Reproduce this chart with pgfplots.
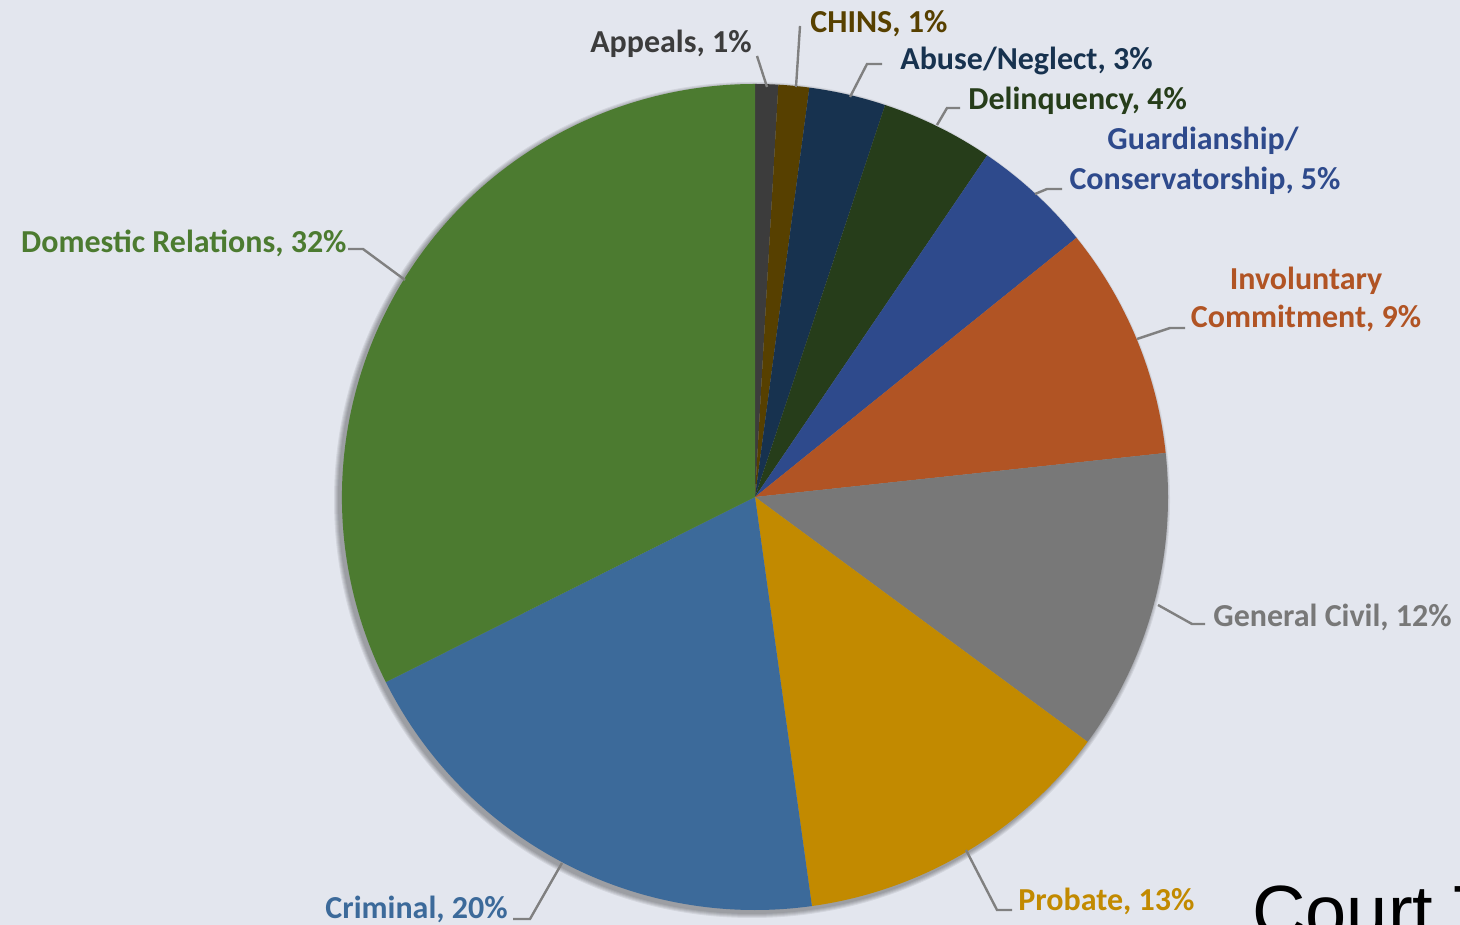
\documentclass[border=0pt]{standalone}
\usepackage{pgfplots}
\pgfplotsset{compat=1.18}
\usepackage{pgfplotstable}
\usepackage{fontspec}
\setmainfont{Carlito}
\newfontfamily\courtfont{Liberation Sans}

\definecolor{bg}{HTML}{E3E6EE}
\definecolor{lead}{HTML}{808080}
% slice colours, in drawing order (clockwise from 12 o'clock)
\definecolor{c0}{HTML}{3C3C3C}
\definecolor{c1}{HTML}{574000}
\definecolor{c2}{HTML}{17324F}
\definecolor{c3}{HTML}{263D1A}
\definecolor{c4}{HTML}{2E4A8C}
\definecolor{c5}{HTML}{B15424}
\definecolor{c6}{HTML}{787878}
\definecolor{c7}{HTML}{C28A00}
\definecolor{c8}{HTML}{3C6A9A}
\definecolor{c9}{HTML}{4C7B30}

% share of cases, percent
\pgfplotstableread{
name share
Appeals 0.9
CHINS 1.2
AbuseNeglect 3.0
Delinquency 4.4
Guardianship 4.7
Involuntary 9.1
GeneralCivil 11.8
Probate 12.7
Criminal 19.8
Domestic 32.4
}\piedata

% start/end angle of each slice
\def\pieCum{0}
\pgfplotstableforeachcolumnelement{share}\of\piedata\as\pieV{%
  \pgfmathsetmacro\pieS{90-3.6*\pieCum}%
  \pgfmathsetmacro\pieN{\pieCum+\pieV}%
  \pgfmathsetmacro\pieE{90-3.6*\pieN}%
  \expandafter\xdef\csname pieS\pgfplotstablerow\endcsname{\pieS}%
  \expandafter\xdef\csname pieE\pgfplotstablerow\endcsname{\pieE}%
  \xdef\pieCum{\pieN}%
}

\begin{document}
\begin{tikzpicture}[
    lab/.style={font=\bfseries\fontsize{16pt}{19pt}\selectfont, inner sep=0pt},
  ]
  \useasboundingbox (0,0) rectangle (730pt,462.5pt);
  \clip (0,0) rectangle (730pt,462.5pt);
  \fill[bg] (0,0) rectangle (730pt,462.5pt);
  \begin{axis}[
      at={(0,0)}, anchor=south west,
      x=0.5pt, y=0.5pt,
      xmin=0, xmax=1460, ymin=0, ymax=925,
      hide axis, clip=false,
      leader/.style={lead, line width=1.2pt, solid, mark=none},
    ]
    % soft shadow under the pie
    \pgfplotsinvokeforeach{1,...,5}{%
      \fill[black, opacity=0.07] (axis cs:752,425) circle[radius={206.5pt+#1*0.5pt}];
    }
    % slices
    \pgfplotsinvokeforeach{0,...,9}{%
      \fill[c#1] (axis cs:755,428) -- ++(\csname pieS#1\endcsname:206.5pt)
        arc[start angle=\csname pieS#1\endcsname, end angle=\csname pieE#1\endcsname, radius=206.5pt] -- cycle;
    }
    % leader lines
    \addplot[leader] coordinates {(757,869) (767,838)};
    \addplot[leader] coordinates {(800,899) (796,838)};
    \addplot[leader] coordinates {(882,861) (867,861) (850,828)};
    \addplot[leader] coordinates {(960,817) (947,817) (937,800)};
    \addplot[leader] coordinates {(1062,736) (1047,736) (1035,731)};
    \addplot[leader] coordinates {(1185,597) (1170,597) (1137,586)};
    \addplot[leader] coordinates {(1205,301) (1192,301) (1158,320)};
    \addplot[leader] coordinates {(1012,15) (997,15) (966,75)};
    \addplot[leader] coordinates {(513,6) (530,6) (562,62)};
    \addplot[leader] coordinates {(348,676) (363,676) (405,645)};
    % labels
    \node[lab, anchor=base east, text=c0] at (axis cs:752,872) {Appeals, 1\%};
    \node[lab, anchor=base west, text=c1] at (axis cs:810,892) {CHINS, 1\%};
    \node[lab, anchor=base west, text=c2] at (axis cs:900,855) {Abuse/Neglect, 3\%};
    \node[lab, anchor=base west, text=c3] at (axis cs:968,815) {Delinquency, 4\%};
    \node[lab, anchor=base, text=c4] at (axis cs:1203,775) {Guardianship/};
    \node[lab, anchor=base, text=c4] at (axis cs:1205,735) {Conservatorship, 5\%};
    \node[lab, anchor=base, text=c5] at (axis cs:1306,635) {Involuntary};
    \node[lab, anchor=base, text=c5] at (axis cs:1306,597) {Commitment, 9\%};
    \node[lab, anchor=base west, text=c6] at (axis cs:1213,298) {General Civil, 12\%};
    \node[lab, anchor=base west, text=c7] at (axis cs:1018,14) {Probate, 13\%};
    \node[lab, anchor=base east, text=c8] at (axis cs:508,6) {Criminal, 20\%};
    \node[lab, anchor=base east, text=c9] at (axis cs:347,672) {Domestic Relations, 32\%};
    \node[anchor=base west, inner sep=0pt, font=\courtfont\fontsize{37pt}{44pt}\selectfont]
      at (axis cs:1252,-13) {Court T};
  \end{axis}
\end{tikzpicture}
\end{document}
